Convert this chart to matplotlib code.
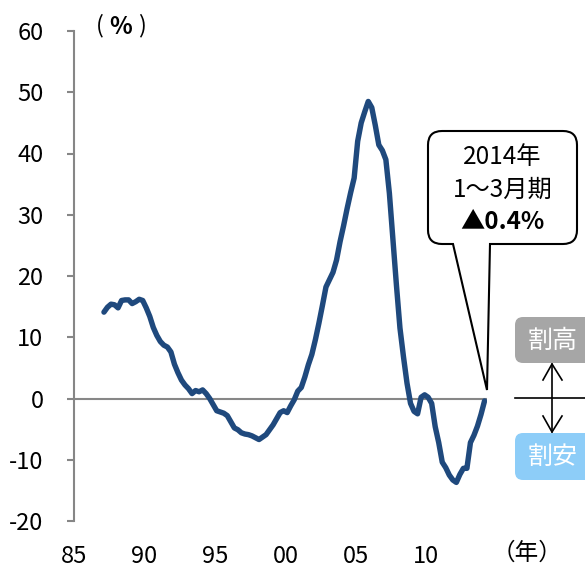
import numpy as np
import matplotlib
matplotlib.use("Agg")
import matplotlib.pyplot as plt
from matplotlib.patches import FancyBboxPatch, PathPatch
from matplotlib.path import Path
from matplotlib.lines import Line2D
from matplotlib.transforms import Affine2D

plt.rcParams["font.family"] = ["Noto Sans CJK JP", "DejaVu Sans"]

# Quarterly deviation (%), starting 1987 Q1 and ending 2014 Q1
start_year = 1987
deviation = [
    14.1, 14.9, 15.4, 15.3,   # 1987
    14.8, 16.0, 16.1, 16.1,   # 1988
    15.5, 15.8, 16.2, 16.0,   # 1989
    14.8, 13.4, 11.6, 10.3,   # 1990
    9.3, 8.7, 8.4, 7.6,       # 1991
    5.6, 4.2, 3.0, 2.2,       # 1992
    1.6, 0.8, 1.3, 1.1,       # 1993
    1.4, 0.8, 0.0, -1.0,      # 1994
    -2.0, -2.2, -2.4, -2.8,   # 1995
    -3.8, -4.8, -5.1, -5.6,   # 1996
    -5.8, -5.9, -6.1, -6.4,   # 1997
    -6.7, -6.3, -5.9, -5.1,   # 1998
    -4.3, -3.3, -2.3, -2.0,   # 1999
    -2.3, -1.2, -0.2, 1.2,    # 2000
    1.8, 3.5, 5.5, 7.2,       # 2001
    9.6, 12.3, 15.2, 18.2,    # 2002
    19.4, 20.6, 22.6, 25.6,   # 2003
    28.2, 31.0, 33.6, 36.0,   # 2004
    42.0, 45.0, 46.8, 48.5,   # 2005
    47.5, 44.6, 41.4, 40.5,   # 2006
    39.0, 33.5, 26.0, 18.5,   # 2007
    11.5, 6.8, 2.5, -0.8,     # 2008
    -2.1, -2.5, 0.2, 0.6,     # 2009
    0.2, -0.8, -4.6, -7.2,    # 2010
    -10.4, -11.3, -12.5, -13.3,  # 2011
    -13.7, -12.4, -11.4, -11.4,  # 2012
    -7.2, -6.0, -4.5, -2.6,   # 2013
    -0.4,                     # 2014 Q1
]
latest_value = deviation[-1]

x_tick_years = [1985, 1990, 1995, 2000, 2005, 2010]
x_tick_labels = ["85", "90", "95", "00", "05", "10"]
y_ticks = [-20, -10, 0, 10, 20, 30, 40, 50, 60]

quarters = start_year + np.arange(len(deviation)) / 4 + 0.125

W, H = 585, 569
fig = plt.figure(figsize=(W / 100, H / 100), dpi=100)
# pixel coordinates measured from the top-left corner of the figure
px = Affine2D().scale(1 / W, -1 / H).translate(0, 1) + fig.transFigure

ax_left, ax_right, ax_top, ax_bottom = 74, 487, 31, 521
ax = fig.add_axes([ax_left / W, 1 - ax_bottom / H,
                   (ax_right - ax_left) / W, (ax_bottom - ax_top) / H])
ax.set_facecolor("none")

ax.plot(quarters, deviation, color="#1F497D", lw=3.9,
        solid_capstyle="round", solid_joinstyle="round", zorder=3)
ax.axhline(0, color="#878787", lw=1.5, zorder=2)

ax.set_xlim(1985, 2014.3)
ax.set_ylim(-20, 60)
ax.set_yticks(y_ticks)
ax.set_yticklabels([str(v) for v in y_ticks])
ax.set_xticks(x_tick_years)
ax.set_xticklabels(x_tick_labels)
for side in ["top", "right", "bottom"]:
    ax.spines[side].set_visible(False)
ax.spines["left"].set_color("#868686")
ax.spines["left"].set_linewidth(1.5)
ax.tick_params(axis="y", direction="out", length=5, width=1.5,
               color="#868686", pad=17, labelsize=17)
ax.tick_params(axis="x", length=0, pad=17, labelsize=17)

# Unit labels
fig.text(100 / W, 1 - 26 / H, "(", ha="center", va="center", fontsize=17)
fig.text(121 / W, 1 - 27 / H, "%", ha="center", va="center", fontsize=17,
         fontweight="bold")
fig.text(142 / W, 1 - 26 / H, ")", ha="center", va="center", fontsize=17)
fig.text(527 / W, 1 - 553 / H, "（年）", ha="center", va="center", fontsize=17)

# Speech-bubble callout for the latest quarter
L, R, T, B, r = 428, 577, 131, 244, 14
base1, base2 = 453, 490
tip = (487, 390)
verts = [
    (L + r, T), (R - r, T), (R, T), (R, T + r), (R, B - r), (R, B), (R - r, B),
    (base2, B), tip, (base1, B), (L + r, B), (L, B), (L, B - r), (L, T + r),
    (L, T), (L + r, T), (L + r, T),
]
codes = [
    Path.MOVETO, Path.LINETO, Path.CURVE3, Path.CURVE3, Path.LINETO,
    Path.CURVE3, Path.CURVE3, Path.LINETO, Path.LINETO, Path.LINETO,
    Path.LINETO, Path.CURVE3, Path.CURVE3, Path.LINETO, Path.CURVE3,
    Path.CURVE3, Path.CLOSEPOLY,
]
bubble = PathPatch(Path(verts, codes), transform=px, facecolor="white",
                   edgecolor="black", lw=1.5, zorder=5)
fig.add_artist(bubble)
cx = (L + R) / 2
fig.text(cx / W, 1 - 157 / H, "2014年", ha="center", va="center",
         fontsize=17.5, zorder=6)
fig.text(cx / W, 1 - 190 / H, "1〜3月期", ha="center", va="center",
         fontsize=17.5, zorder=6)
fig.text(cx / W, 1 - 222 / H, f"▲{abs(latest_value):.1f}%", ha="center",
         va="center", fontsize=17.5, fontweight="bold", zorder=6)

# Overvalued / undervalued guide on the right
box_hi = FancyBboxPatch((515, 317), 90, 46, boxstyle="round,pad=0,rounding_size=8",
                        transform=px, facecolor="#A6A6A6", edgecolor="none")
box_lo = FancyBboxPatch((515, 433), 90, 47, boxstyle="round,pad=0,rounding_size=8",
                        transform=px, facecolor="#8DCDF8", edgecolor="none")
fig.add_artist(box_hi)
fig.add_artist(box_lo)
fig.text(553 / W, 1 - 341 / H, "割高", ha="center", va="center",
         fontsize=18, color="white")
fig.text(553 / W, 1 - 457 / H, "割安", ha="center", va="center",
         fontsize=18, color="white")

guide_lines = [
    ([515, 585], [398, 398]),
    ([552, 552], [364, 432]),
    ([543, 552, 562], [380, 364, 380]),
    ([543, 552, 562], [416, 432, 416]),
]
for xs, ys in guide_lines:
    fig.add_artist(Line2D(xs, ys, transform=px, color="black", lw=1.2))

fig.savefig("out.png", dpi=100)
